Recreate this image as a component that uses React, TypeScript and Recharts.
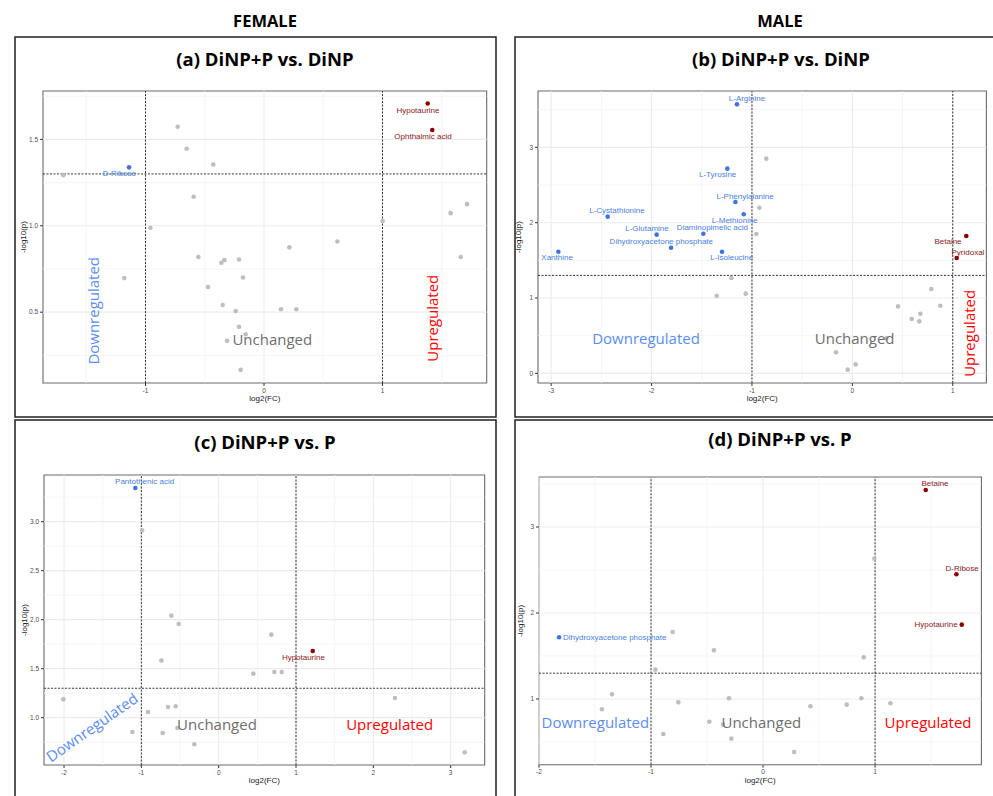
import React from 'react';
import { ScatterChart, Scatter, XAxis, YAxis, ReferenceLine, ReferenceArea } from 'recharts';

type Pt = { name?: string; fc: number; logp: number };

// ---------- Panel (a) FEMALE: DiNP+P vs. DiNP ----------
const A_UP: Pt[] = [
  { name: 'Hypotaurine', fc: 1.381, logp: 1.708 },
  { name: 'Ophthalmic acid', fc: 1.42, logp: 1.554 },
];
const A_DOWN: Pt[] = [{ name: 'D-Ribose', fc: -1.139, logp: 1.338 }];
const A_NS: Pt[] = [
  { fc: -1.693, logp: 1.293 }, { fc: -0.729, logp: 1.573 }, { fc: -0.653, logp: 1.446 },
  { fc: -0.428, logp: 1.355 }, { fc: -0.594, logp: 1.168 }, { fc: -0.959, logp: 0.988 },
  { fc: 1.001, logp: 1.027 }, { fc: 1.575, logp: 1.073 }, { fc: 1.713, logp: 1.125 },
  { fc: 1.66, logp: 0.819 }, { fc: 0.619, logp: 0.909 }, { fc: 0.214, logp: 0.875 },
  { fc: -0.554, logp: 0.819 }, { fc: -0.36, logp: 0.786 }, { fc: -0.335, logp: 0.801 },
  { fc: -0.211, logp: 0.805 }, { fc: -1.179, logp: 0.697 }, { fc: -0.177, logp: 0.701 },
  { fc: -0.473, logp: 0.645 }, { fc: -0.349, logp: 0.541 }, { fc: -0.239, logp: 0.506 },
  { fc: 0.143, logp: 0.517 }, { fc: 0.273, logp: 0.517 }, { fc: -0.211, logp: 0.415 },
  { fc: -0.312, logp: 0.334 }, { fc: -0.155, logp: 0.372 }, { fc: -0.197, logp: 0.166 },
];
const A_NOTES = [
  { text: 'Downregulated', fc: -1.443, logp: 0.508 },
  { text: 'Unchanged', fc: 0.07, logp: 0.344 },
  { text: 'Upregulated', fc: 1.421, logp: 0.465 },
];

// ---------- Panel (b) MALE: DiNP+P vs. DiNP ----------
const B_UP: Pt[] = [
  { name: 'Betaine', fc: 1.135, logp: 1.823 },
  { name: 'Pyridoxal', fc: 1.039, logp: 1.531 },
];
const B_DOWN: Pt[] = [
  { name: 'L-Arginine', fc: -1.149, logp: 3.571 },
  { name: 'L-Tyrosine', fc: -1.245, logp: 2.717 },
  { name: 'L-Phenylalanine', fc: -1.165, logp: 2.274 },
  { name: 'L-Methionine', fc: -1.082, logp: 2.111 },
  { name: 'L-Cystathionine', fc: -2.437, logp: 2.08 },
  { name: 'L-Glutamine', fc: -1.949, logp: 1.841 },
  { name: 'Diaminopimelic acid', fc: -1.484, logp: 1.854 },
  { name: 'Dihydroxyacetone phosphate', fc: -1.806, logp: 1.668 },
  { name: 'L-Isoleucine', fc: -1.298, logp: 1.615 },
  { name: 'Xanthine', fc: -2.928, logp: 1.615 },
];
const B_NS: Pt[] = [
  { fc: -0.857, logp: 2.85 }, { fc: -0.926, logp: 2.199 }, { fc: -0.956, logp: 1.85 },
  { fc: -1.205, logp: 1.265 }, { fc: -1.351, logp: 1.031 }, { fc: -1.062, logp: 1.058 },
  { fc: 0.787, logp: 1.119 }, { fc: 0.455, logp: 0.889 }, { fc: 0.876, logp: 0.898 },
  { fc: 0.677, logp: 0.792 }, { fc: 0.591, logp: 0.721 }, { fc: 0.667, logp: 0.69 },
  { fc: -0.163, logp: 0.279 }, { fc: 0.033, logp: 0.119 }, { fc: -0.046, logp: 0.049 },
  { fc: 0.339, logp: 0.465 },
];
const B_NOTES = [
  { text: 'Downregulated', fc: -2.055, logp: 0.465 },
  { text: 'Unchanged', fc: 0.023, logp: 0.465 },
  { text: 'Upregulated', fc: 1.159, logp: 0.531 },
];

// ---------- Panel (c) FEMALE: DiNP+P vs. P ----------
const C_UP: Pt[] = [{ name: 'Hypotaurine', fc: 1.216, logp: 1.68 }];
const C_DOWN: Pt[] = [{ name: 'Pantothenic acid', fc: -1.078, logp: 3.344 }];
const C_NS: Pt[] = [
  { fc: -0.991, logp: 2.912 }, { fc: -0.612, logp: 2.041 }, { fc: -0.517, logp: 1.956 },
  { fc: 0.681, logp: 1.847 }, { fc: -0.741, logp: 1.582 }, { fc: 0.448, logp: 1.449 },
  { fc: 0.72, logp: 1.466 }, { fc: 0.815, logp: 1.466 }, { fc: -2.009, logp: 1.187 },
  { fc: 2.28, logp: 1.201 }, { fc: -0.914, logp: 1.058 }, { fc: -0.655, logp: 1.109 },
  { fc: -0.556, logp: 1.116 }, { fc: -1.116, logp: 0.854 }, { fc: -0.724, logp: 0.844 },
  { fc: -0.534, logp: 0.895 }, { fc: -0.315, logp: 0.728 }, { fc: 3.181, logp: 0.646 },
];
const C_NOTES = [
  { text: 'Downregulated', fc: -1.642, logp: 0.905 },
  { text: 'Unchanged', fc: -0.022, logp: 0.939 },
  { text: 'Upregulated', fc: 2.211, logp: 0.939 },
];

// ---------- Panel (d) MALE: DiNP+P vs. P ----------
const D_UP: Pt[] = [
  { name: 'Betaine', fc: 1.452, logp: 3.43 },
  { name: 'D-Ribose', fc: 1.726, logp: 2.45 },
  { name: 'Hypotaurine', fc: 1.774, logp: 1.864 },
];
const D_DOWN: Pt[] = [{ name: 'Dihydroxyacetone phosphate', fc: -1.821, logp: 1.717 }];
const D_NS: Pt[] = [
  { fc: 0.994, logp: 2.632 }, { fc: -0.807, logp: 1.779 }, { fc: -0.438, logp: 1.566 },
  { fc: 0.899, logp: 1.484 }, { fc: -0.961, logp: 1.341 }, { fc: -1.348, logp: 1.054 },
  { fc: -1.438, logp: 0.88 }, { fc: -0.756, logp: 0.961 }, { fc: -0.304, logp: 1.008 },
  { fc: 0.878, logp: 1.008 }, { fc: 1.137, logp: 0.95 }, { fc: 0.747, logp: 0.934 },
  { fc: 0.423, logp: 0.915 }, { fc: -0.479, logp: 0.736 }, { fc: -0.357, logp: 0.702 },
  { fc: -0.89, logp: 0.593 }, { fc: -0.283, logp: 0.539 }, { fc: 0.277, logp: 0.384 },
];
const D_NOTES = [
  { text: 'Downregulated', fc: -1.497, logp: 0.736 },
  { text: 'Unchanged', fc: -0.015, logp: 0.736 },
  { text: 'Upregulated', fc: 1.473, logp: 0.736 },
];

// ---------- Axis ticks ----------
const A_XTICKS = [-1, 0, 1];
const A_YTICKS = [0.5, 1.0, 1.5];
const B_XTICKS = [-3, -2, -1, 0, 1];
const B_YTICKS = [0, 1, 2, 3];
const C_XTICKS = [-2, -1, 0, 1, 2, 3];
const C_YTICKS = [1.0, 1.5, 2.0, 2.5, 3.0];
const D_XTICKS = [-2, -1, 0, 1];
const D_YTICKS = [1, 2, 3];

const FC_CUT = [-1, 1];
const P_CUT = 1.3;

// ---------- Styles / layout ----------
const SANS = "'Liberation Sans', Arial, sans-serif";
const NOTE_FONT = "'Open Sans', 'Noto Sans', sans-serif";
const HEAD_FONT = "'Open Sans', 'Noto Sans', sans-serif";
const GREY = '#BEBEBE';
const UP_PT = '#8B0000';
const UP_LBL = '#8B1A1A';
const DOWN_PT = '#3F74DD';
const DOWN_LBL = '#4A7FE0';
const NOTE_COLOR: Record<string, string> = {
  Downregulated: '#5B8DEF',
  Unchanged: '#6E6E6E',
  Upregulated: '#FF0000',
};

const YW = 32;
const XH = 30;
const MT = 8;
const MR = 8;

const minorOf = (ticks: number[], lo: number, hi: number) => {
  const step = ticks[1] - ticks[0];
  const out: number[] = [];
  for (let v = ticks[0] - step / 2; v > lo; v -= step) out.push(v);
  for (let v = ticks[0] + step / 2; v < hi; v += step) out.push(v);
  return out;
};

const PANELS = [
  {
    id: 'a', title: '(a) DiNP+P vs. DiNP', titleX: 265, titleY: 58,
    box: { l: 15, t: 37, r: 496, b: 417 },
    plot: { l: 43.3, t: 90.7, w: 443.7, h: 292 },
    xDomain: [-1.865, 1.879], yDomain: [0.09, 1.78],
    xTicks: A_XTICKS, yTicks: A_YTICKS, yDec: 1,
    up: A_UP, down: A_DOWN, ns: A_NS, notes: A_NOTES,
    angles: { Downregulated: -90, Upregulated: -90 } as Record<string, number>,
    nudges: {
      Hypotaurine: [-9.7, 6.7], 'Ophthalmic acid': [-9.3, 6.7], 'D-Ribose': [-9.7, 6.3],
    } as Record<string, number[]>,
  },
  {
    id: 'b', title: '(b) DiNP+P vs. DiNP', titleX: 781, titleY: 58,
    box: { l: 515, t: 37, r: 1010, b: 417 },
    plot: { l: 538.3, t: 91, w: 448.4, h: 292 },
    xDomain: [-3.131, 1.335], yDomain: [-0.128, 3.748],
    xTicks: B_XTICKS, yTicks: B_YTICKS, yDec: 0,
    up: B_UP, down: B_DOWN, ns: B_NS, notes: B_NOTES,
    angles: { Upregulated: -90 } as Record<string, number>,
    nudges: {
      'L-Arginine': [10, -6], 'L-Tyrosine': [-9.7, 6.3], 'L-Phenylalanine': [9.7, -6],
      'L-Methionine': [-9, 6], 'L-Cystathionine': [9.3, -6], 'L-Glutamine': [-9.7, -5.7],
      'Diaminopimelic acid': [9, -5.7], 'Dihydroxyacetone phosphate': [-9.7, -5.7],
      'L-Isoleucine': [9.7, 6.3], Xanthine: [-1.3, 6.3], Betaine: [-18.3, 5], Pyridoxal: [11.3, -6],
    } as Record<string, number[]>,
  },
  {
    id: 'c', title: '(c) DiNP+P vs. P', titleX: 265, titleY: 441,
    box: { l: 15, t: 420, r: 496, b: 810 },
    plot: { l: 44.3, t: 474.7, w: 440.7, h: 290 },
    xDomain: [-2.259, 3.44], yDomain: [0.517, 3.476],
    xTicks: C_XTICKS, yTicks: C_YTICKS, yDec: 1,
    up: C_UP, down: C_DOWN, ns: C_NS, notes: C_NOTES,
    angles: { Downregulated: -35 } as Record<string, number>,
    nudges: { 'Pantothenic acid': [9.3, -6], Hypotaurine: [-9.3, 6.3] } as Record<string, number[]>,
  },
  {
    id: 'd', title: '(d) DiNP+P vs. P', titleX: 780, titleY: 438,
    box: { l: 515, t: 420, r: 1010, b: 810 },
    plot: { l: 539.3, t: 477.3, w: 442.4, h: 287.7 },
    xDomain: [-2.0, 1.949], yDomain: [0.236, 3.581],
    xTicks: D_XTICKS, yTicks: D_YTICKS, yDec: 0,
    up: D_UP, down: D_DOWN, ns: D_NS, notes: D_NOTES,
    angles: {} as Record<string, number>,
    nudges: {
      Betaine: [9.3, -6], 'D-Ribose': [5.7, -5.7], Hypotaurine: [-25.7, 0],
      'Dihydroxyacetone phosphate': [55.7, 0],
    } as Record<string, number[]>,
  },
];

const XTitle = (props: any) => {
  const vb = props.viewBox || {};
  return (
    <text x={vb.x + vb.width / 2} y={vb.y + 15.5} textAnchor="middle" dominantBaseline="central"
      fontSize={8} fill="#1a1a1a" fontFamily={SANS}>log2(FC)</text>
  );
};
const YTitle = (props: any) => {
  const vb = props.viewBox || {};
  const cx = vb.x + 13;
  const cy = vb.y + vb.height / 2;
  return (
    <text x={cx} y={cy} transform={`rotate(-90 ${cx} ${cy})`} textAnchor="middle" dominantBaseline="central"
      fontSize={8} fill="#1a1a1a" fontFamily={SANS}>-log10(p)</text>
  );
};

const greyShape = (p: any) => <circle cx={p.cx} cy={p.cy} r={2.3} fill={GREY} />;

const labeledShape = (pt: string, lbl: string, nudges: Record<string, number[]>) => (p: any) => {
  const n = nudges[p.payload.name] || [0, 7];
  return (
    <g>
      <circle cx={p.cx} cy={p.cy} r={2.3} fill={pt} />
      <text x={p.cx + n[0]} y={p.cy + n[1]} textAnchor="middle" dominantBaseline="central"
        fontSize={8} fill={lbl} fontFamily={SANS}>{p.payload.name}</text>
    </g>
  );
};

const noteShape = (angles: Record<string, number>) => (p: any) => {
  const t = p.payload.text;
  const a = angles[t] || 0;
  return (
    <text x={p.cx} y={p.cy} textAnchor="middle" dominantBaseline="central" fontSize={15}
      fill={NOTE_COLOR[t]} fontFamily={NOTE_FONT}
      transform={a ? `rotate(${a} ${p.cx} ${p.cy})` : undefined}>{t}</text>
  );
};

const Panel = ({ cfg }: { cfg: any }) => {
  const { plot, xDomain, yDomain, xTicks, yTicks } = cfg;
  const W = YW + plot.w + MR;
  const H = MT + plot.h + XH;
  const xMinor = minorOf(xTicks, xDomain[0], xDomain[1]);
  const yMinor = minorOf(yTicks, yDomain[0], yDomain[1]);
  return (
    <div style={{ position: 'absolute', left: plot.l - YW, top: plot.t - MT, width: W, height: H }}>
      <ScatterChart width={W} height={H} margin={{ top: MT, right: MR, left: 0, bottom: 0 }}>
        <XAxis type="number" dataKey="fc" domain={xDomain} allowDataOverflow ticks={xTicks} interval={0}
          axisLine={false} tickSize={3} tickLine={{ stroke: '#333' }}
          tick={{ fontSize: 6.5, fill: '#4d4d4d', fontFamily: SANS }}
          tickFormatter={(v: number) => String(v)} height={XH} label={<XTitle />} />
        <YAxis type="number" dataKey="logp" domain={yDomain} allowDataOverflow ticks={yTicks} interval={0}
          axisLine={false} tickSize={3} tickLine={{ stroke: '#333' }}
          tick={{ fontSize: 6.5, fill: '#4d4d4d', fontFamily: SANS }}
          tickFormatter={(v: number) => v.toFixed(cfg.yDec)} width={YW} label={<YTitle />} />
        {yMinor.map((v: number) => <ReferenceLine key={'ym' + v} y={v} stroke="#F3F3F3" strokeWidth={0.8} />)}
        {xMinor.map((v: number) => <ReferenceLine key={'xm' + v} x={v} stroke="#F3F3F3" strokeWidth={0.8} />)}
        {yTicks.map((v: number) => <ReferenceLine key={'yM' + v} y={v} stroke="#EBEBEB" strokeWidth={1.1} />)}
        {xTicks.map((v: number) => <ReferenceLine key={'xM' + v} x={v} stroke="#EBEBEB" strokeWidth={1.1} />)}
        {FC_CUT.map((v) => <ReferenceLine key={'fc' + v} x={v} stroke="#333" strokeWidth={1} strokeDasharray="2 1.5" />)}
        <ReferenceLine y={P_CUT} stroke="#333" strokeWidth={1} strokeDasharray="2 1.5" />
        <ReferenceArea x1={xDomain[0]} x2={xDomain[1]} y1={yDomain[0]} y2={yDomain[1]}
          fill="none" fillOpacity={0} stroke="#6a6a6a" strokeWidth={1.1} />
        <Scatter data={cfg.ns} isAnimationActive={false} shape={greyShape} />
        <Scatter data={cfg.notes} isAnimationActive={false} shape={noteShape(cfg.angles)} />
        <Scatter data={cfg.down} isAnimationActive={false} shape={labeledShape(DOWN_PT, DOWN_LBL, cfg.nudges)} />
        <Scatter data={cfg.up} isAnimationActive={false} shape={labeledShape(UP_PT, UP_LBL, cfg.nudges)} />
      </ScatterChart>
    </div>
  );
};

export default function App() {
  return (
    <div style={{ position: 'absolute', left: 0, top: 0, width: 993, height: 796, overflow: 'hidden', background: '#fff', fontFamily: SANS }}>
      <svg width={993} height={796} style={{ position: 'absolute', left: 0, top: 0 }}>
        <text x={265} y={20} textAnchor="middle" dominantBaseline="central" fontSize={16.5} fontWeight={700}
          fontFamily={HEAD_FONT} fill="#000">FEMALE</text>
        <text x={780} y={20} textAnchor="middle" dominantBaseline="central" fontSize={16.5} fontWeight={700}
          fontFamily={HEAD_FONT} fill="#000">MALE</text>
        {PANELS.map((p) => (
          <g key={p.id}>
            <rect x={p.box.l} y={p.box.t} width={p.box.r - p.box.l} height={p.box.b - p.box.t}
              fill="none" stroke="#1f1f1f" strokeWidth={1.5} />
            <text x={p.titleX} y={p.titleY} textAnchor="middle" dominantBaseline="central" fontSize={18.5}
              fontWeight={700} fontFamily={HEAD_FONT} fill="#000">{p.title}</text>
          </g>
        ))}
      </svg>
      {PANELS.map((p) => <Panel key={p.id} cfg={p} />)}
    </div>
  );
}
